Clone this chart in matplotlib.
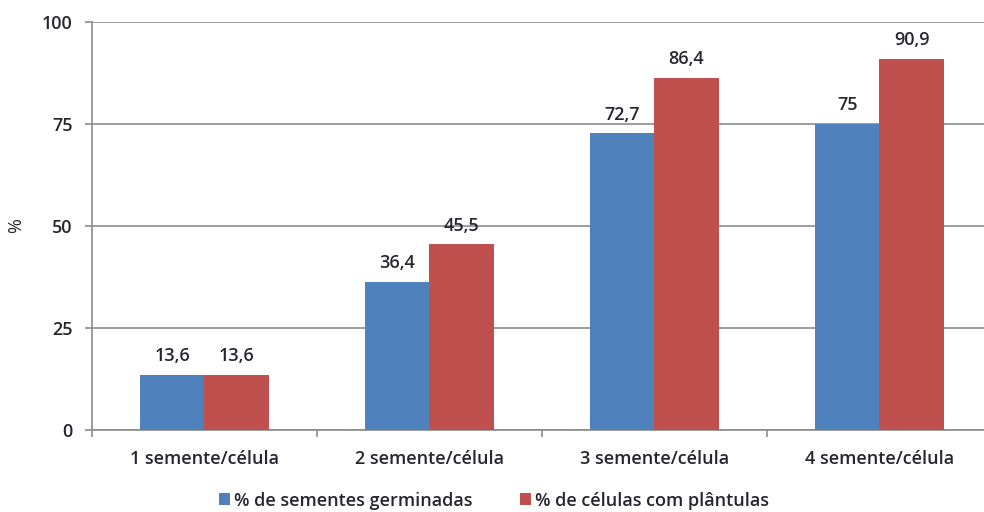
import matplotlib.pyplot as plt
import numpy as np

plt.rcParams['font.family'] = ['Open Sans', 'DejaVu Sans']
plt.rcParams['font.weight'] = 600

categorias = ['1 semente/célula', '2 semente/célula', '3 semente/célula', '4 semente/célula']
germinadas = [13.6, 36.4, 72.7, 75]
plantulas = [13.6, 45.5, 86.4, 90.9]
series = ['% de sementes germinadas', '% de células com plântulas']

azul = '#4F81BD'
vermelho = '#C0504D'
cinza = '#8C8C8C'
texto = '#262630'
fs = 13

fig = plt.figure(figsize=(9.84, 5.12), dpi=100)
# eixo um pouco mais largo que a figura: o último intervalo fica cortado na borda
ax = fig.add_axes([0.0935, 0.160, 0.9146, 0.797])

x = np.arange(len(categorias))
w = 0.285
b1 = ax.bar(x - w / 2, germinadas, w, color=azul, label=series[0], zorder=3)
b2 = ax.bar(x + w / 2, plantulas, w, color=vermelho, label=series[1], zorder=3)

def fmt(v):
    return f'{v:g}'.replace('.', ',')

for bars, vals in ((b1, germinadas), (b2, plantulas)):
    for b, v in zip(bars, vals):
        ax.annotate(fmt(v), (b.get_x() + b.get_width() / 2, v), xytext=(0, 7),
                    textcoords='offset points', ha='center', va='bottom',
                    fontsize=fs, color=texto)

ax.set_ylim(0, 100)
ax.set_yticks([0, 25, 50, 75, 100])
ax.set_xlim(-0.5, 3.5)
ax.set_xticks(x)
ax.set_xticklabels(categorias)
ax.set_xticks(np.arange(-0.5, 4, 1), minor=True)
ax.tick_params(axis='x', which='major', length=0, pad=14, labelsize=fs, labelcolor=texto)
ax.tick_params(axis='x', which='minor', length=5, color=cinza, width=1.2)
ax.tick_params(axis='y', length=5, color=cinza, width=1.2, pad=9, labelsize=fs, labelcolor=texto)

ax.yaxis.grid(True, color=cinza, linewidth=1.2, zorder=0)
ax.set_axisbelow(True)
for s in ('top', 'right'):
    ax.spines[s].set_visible(False)
for s in ('left', 'bottom'):
    ax.spines[s].set_color(cinza)
    ax.spines[s].set_linewidth(1.2)

ax.set_ylabel('%', fontsize=fs, color=texto, labelpad=12)

fig.legend(loc='lower center', bbox_to_anchor=(0.502, -0.027), ncol=2, frameon=False,
           fontsize=fs, handlelength=0.6, handleheight=0.6, handletextpad=0.25,
           columnspacing=2.6, labelcolor=texto)

fig.savefig('out.png', dpi=100)
